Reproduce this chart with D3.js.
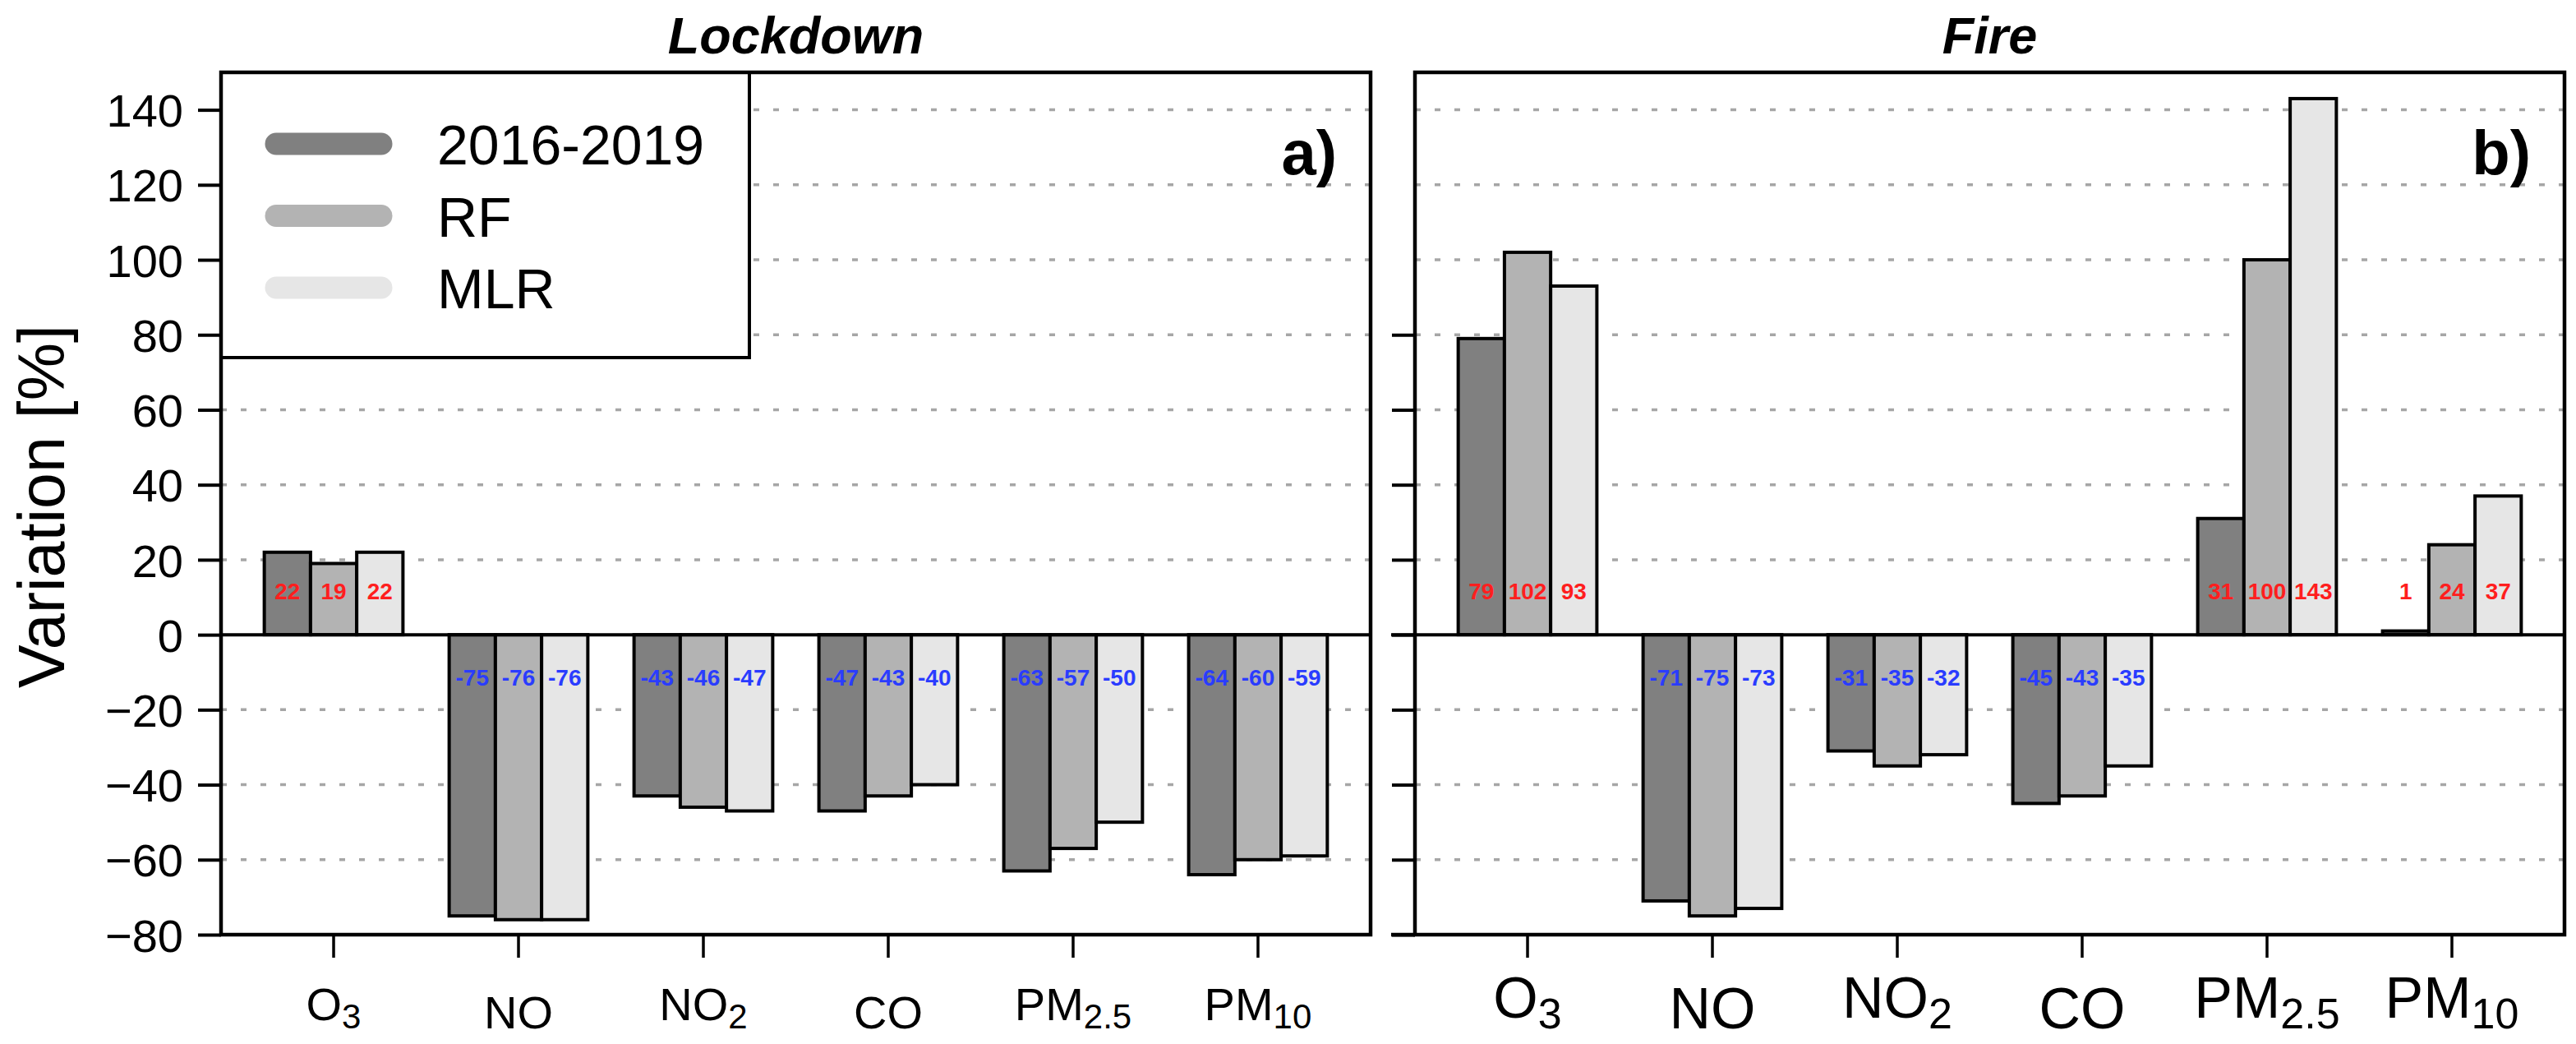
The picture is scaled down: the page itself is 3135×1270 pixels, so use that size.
<!DOCTYPE html>
<html>
<head>
<meta charset="utf-8">
<script src="https://cdn.jsdelivr.net/npm/d3@7"></script>
<style>
  body { margin: 0; background: #fff; }
  text { font-family: "Liberation Sans", Arial, sans-serif; }
</style>
</head>
<body>
<script>
// data
var categories = ["O3", "NO", "NO2", "CO", "PM2.5", "PM10"];
var catMain = ["O", "NO", "NO", "CO", "PM", "PM"];
var catSub = ["3", "", "2", "", "2.5", "10"];
var seriesNames = ["2016-2019", "RF", "MLR"];
var seriesColors = ["#808080", "#b3b3b3", "#e6e6e6"];

var lockBase = [22, -75, -43, -47, -63, -64];
var lockRF = [19, -76, -46, -43, -57, -60];
var lockMLR = [22, -76, -47, -40, -50, -59];

var fireBase = [79, -71, -31, -45, 31, 1];
var fireRF = [102, -75, -35, -43, 100, 24];
var fireMLR = [93, -73, -32, -35, 143, 37];

var yTicks = [-80, -60, -40, -20, 0, 20, 40, 60, 80, 100, 120, 140];
var yTicksRight = [-80, -60, -40, -20, 0, 20, 40, 60, 80];
var gridVals = [-60, -40, -20, 20, 40, 60, 80, 100, 120, 140];

var W = 3135, H = 1270;
var svg = d3.select("body").append("svg")
  .attr("width", W).attr("height", H)
  .style("background", "#fff");

var y = d3.scaleLinear().domain([-80, 150]).range([1137, 88]);

var panels = [
  {title: "Lockdown", tag: "a)", x0: 269, x1: 1668, data: [lockBase, lockRF, lockMLR], labFont: 56, labSub: 42, raise: 10, left: true},
  {title: "Fire", tag: "b)", x0: 1722, x1: 3121, data: [fireBase, fireRF, fireMLR], labFont: 70, labSub: 52, raise: 13, left: false}
];

panels.forEach(function(p){
  var g = svg.append("g");
  var x = d3.scaleBand().domain(categories).range([p.x0, p.x1])
    .paddingInner(0.25).paddingOuter(0.234);
  var xs = d3.scaleBand().domain(d3.range(3)).range([0, x.bandwidth()]);

  // dotted grid
  g.selectAll("line.grid")
    .data(gridVals)
    .enter().append("line")
      .attr("x1", p.x0).attr("x2", p.x1)
      .attr("y1", function(d){ return y(d); })
      .attr("y2", function(d){ return y(d); })
      .attr("stroke", "#a6a6a6")
      .attr("stroke-width", 3.5)
      .attr("stroke-dasharray", "7,17");

  // legend only in left panel
  if (p.left) {
    var lg = g.append("g");
    lg.append("rect")
      .attr("x", p.x0).attr("y", 88)
      .attr("width", 912 - p.x0).attr("height", 435 - 88)
      .attr("fill", "#fff").attr("stroke", "#000").attr("stroke-width", 4);
    seriesNames.forEach(function(s, i){
      var ly = 175 + i * 87.5;
      lg.append("line")
        .attr("x1", 336).attr("x2", 464)
        .attr("y1", ly).attr("y2", ly)
        .attr("stroke", seriesColors[i])
        .attr("stroke-width", 27)
        .attr("stroke-linecap", "round");
      lg.append("text")
        .attr("x", 532).attr("y", ly + 25)
        .attr("font-size", 68)
        .text(s);
    });
  }

  // bars
  p.data.forEach(function(vals, si){
    g.selectAll("rect.s" + si)
      .data(vals)
      .enter().append("rect")
        .attr("x", function(d, i){ return x(categories[i]) + xs(si); })
        .attr("width", xs.bandwidth())
        .attr("y", function(d){ return Math.min(y(d), y(0)); })
        .attr("height", function(d){ return Math.abs(y(d) - y(0)); })
        .attr("fill", seriesColors[si])
        .attr("stroke", "#000")
        .attr("stroke-width", 4);

    g.selectAll("text.v" + si)
      .data(vals)
      .enter().append("text")
        .attr("x", function(d, i){ return x(categories[i]) + xs(si) + xs.bandwidth() / 2; })
        .attr("y", function(d){ return d >= 0 ? y(0) - 43 : y(0) + 62; })
        .attr("text-anchor", "middle")
        .attr("font-size", 28)
        .attr("font-weight", "bold")
        .attr("fill", function(d){ return d >= 0 ? "#ff1e1e" : "#2a3cff"; })
        .text(function(d){ return d; });
  });

  // zero line
  g.append("line")
    .attr("x1", p.left ? p.x0 : p.x0 - 29).attr("x2", p.x1)
    .attr("y1", y(0)).attr("y2", y(0))
    .attr("stroke", "#000").attr("stroke-width", 4);

  // y axis
  var yAxis = d3.axisLeft(y)
    .tickValues(p.left ? yTicks : yTicksRight)
    .tickSize(28)
    .tickPadding(18)
    .tickFormat(p.left ? d3.format("d") : function(){ return ""; });
  var ya = g.append("g").attr("transform", "translate(" + p.x0 + ",0)").call(yAxis);
  ya.select(".domain").remove();
  ya.selectAll("line").attr("stroke", "#000").attr("stroke-width", 4);
  ya.selectAll("text")
    .attr("font-size", 56)
    .attr("font-family", "Liberation Sans, Arial, sans-serif")
    .attr("fill", "#000")
    .attr("dy", "0.36em");

  // x axis ticks
  var xAxis = d3.axisBottom(x).tickSize(28).tickFormat(function(){ return ""; });
  var xa = g.append("g").attr("transform", "translate(0," + y(-80) + ")").call(xAxis);
  xa.select(".domain").remove();
  xa.selectAll("line").attr("stroke", "#000").attr("stroke-width", 3.5);

  // x labels with subscripts
  categories.forEach(function(c, i){
    var t = g.append("text")
      .attr("x", x(c) + x.bandwidth() / 2)
      .attr("y", catSub[i] ? 1251 - p.raise : 1251)
      .attr("text-anchor", "middle")
      .attr("font-size", p.labFont);
    t.append("tspan").text(catMain[i]);
    if (catSub[i]) {
      t.append("tspan")
        .attr("dy", p.raise)
        .attr("font-size", p.labSub)
        .text(catSub[i]);
    }
  });

  // panel frame
  g.append("rect")
    .attr("x", p.x0).attr("y", 88)
    .attr("width", p.x1 - p.x0).attr("height", y(-80) - 88)
    .attr("fill", "none").attr("stroke", "#000").attr("stroke-width", 4.5);

  if (!p.left) {
    g.append("line")
      .attr("x1", p.x0 - 29).attr("x2", p.x0)
      .attr("y1", y(-80)).attr("y2", y(-80))
      .attr("stroke", "#000").attr("stroke-width", 4.5);
  }

  // title and tag
  g.append("text")
    .attr("x", (p.x0 + p.x1) / 2).attr("y", 65)
    .attr("text-anchor", "middle")
    .attr("font-size", 63)
    .attr("font-weight", "bold")
    .attr("font-style", "italic")
    .text(p.title);

  g.append("text")
    .attr("x", p.x1 - 41).attr("y", 212)
    .attr("text-anchor", "end")
    .attr("font-size", 76)
    .attr("font-weight", "bold")
    .text(p.tag);
});

// y axis title
svg.append("text")
  .attr("transform", "translate(78,616) rotate(-90)")
  .attr("text-anchor", "middle")
  .attr("font-size", 79)
  .text("Variation [%]");
</script>
</body>
</html>
